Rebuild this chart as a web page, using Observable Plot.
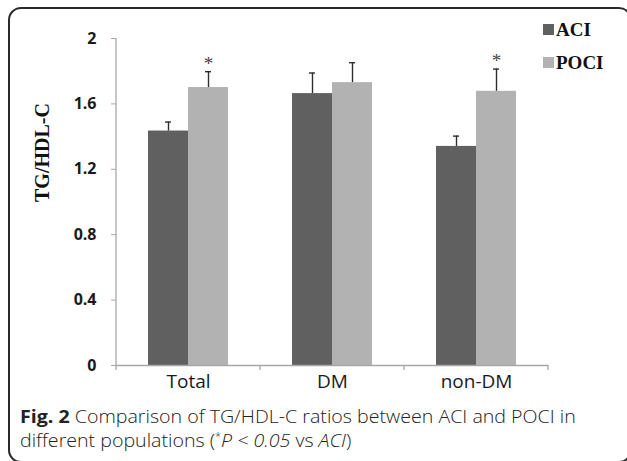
<!DOCTYPE html>
<html>
<head>
<meta charset="utf-8">
<script src="https://cdn.jsdelivr.net/npm/d3@7"></script>
<script src="https://cdn.jsdelivr.net/npm/@observablehq/plot@0.6"></script>
<style>
  html, body { margin: 0; padding: 0; background: #fff; overflow: hidden; }
  #page { position: relative; width: 627px; height: 461px; overflow: hidden; }
  #frame { position: absolute; left: 8px; top: 7px; width: 624px; height: 456px; box-sizing: border-box;
           border: 2px solid #2a2a2a; border-radius: 13px; }
  #chart { position: absolute; left: 0; top: 0; }
  #legend { position: absolute; left: 543px; top: 18px; font-family: "Liberation Serif", "Times New Roman", serif;
            font-weight: bold; font-size: 19px; color: #111; }
  .li { position: absolute; left: 0; white-space: nowrap; height: 24px; line-height: 24px; }
  .sw { display: inline-block; width: 11px; height: 11px; vertical-align: middle; margin-right: 2px; position: relative; top: -2px; }
  #caption { position: absolute; left: 20px; top: 404px; font-family: "Open Sans", sans-serif; font-size: 18px;
             line-height: 24px; color: #222; font-weight: 300; white-space: nowrap; transform-origin: 0 0; }
  #caption b { font-weight: 700; }
  #caption sup { font-size: 10px; vertical-align: 7px; line-height: 0; }
</style>
</head>
<body>
<div id="page">
  <div id="frame"></div>
  <div id="chart"></div>
  <div id="legend"></div>
  <div id="caption"></div>
</div>
<script>
// ---- data ----
const categories = ["Total", "DM", "non-DM"];
const series = ["ACI", "POCI"];
const aciMean = [1.434, 1.663, 1.340];
const aciErr = [0.055, 0.126, 0.063];
const pociMean = [1.700, 1.730, 1.677];
const pociErr = [0.097, 0.122, 0.136];
const pociSignificant = [true, false, true];
const yTicks = [0, 0.4, 0.8, 1.2, 1.6, 2];
const yLabel = "TG/HDL-C";
const seriesColors = ["#606060", "#b2b2b2"];
const captionBold = "Fig. 2";
const captionLine1 = " Comparison of TG/HDL-C ratios between ACI and POCI in";
const captionLine2 = "different populations (";

// ---- table ----
const rows = categories.flatMap((c, i) => [
  {category: c, series: series[0], mean: aciMean[i], err: aciErr[i], sig: false},
  {category: c, series: series[1], mean: pociMean[i], err: pociErr[i], sig: pociSignificant[i]}
]);

const plot = Plot.plot({
  width: 627,
  height: 395,
  marginLeft: 115,
  marginRight: 78,
  marginTop: 38,
  marginBottom: 30,
  style: {fontFamily: "'Open Sans', sans-serif", background: "transparent", color: "#222"},
  fx: {domain: categories, padding: 0, axis: null, label: null},
  x: {domain: series, paddingInner: 0, paddingOuter: 0.764, axis: null},
  y: {domain: [0, 2], axis: null},
  color: {domain: series, range: seriesColors},
  marks: [
    Plot.barY(rows, {fx: "category", x: "series", y: "mean", fill: "series"}),
    Plot.ruleX(rows, {fx: "category", x: "series", y1: "mean", y2: d => d.mean + d.err, stroke: "#2e2e2e", strokeWidth: 1.4}),
    Plot.tickY(rows, {fx: "category", x: "series", y: d => d.mean + d.err, insetLeft: 17, insetRight: 17, stroke: "#2e2e2e", strokeWidth: 1.4}),
    Plot.text(rows.filter(d => d.sig), {fx: "category", x: "series", y: d => d.mean + d.err, text: () => "*", dy: -8,
      fontSize: 19, fill: "#444", fontFamily: "'Liberation Serif', serif"}),
    Plot.ruleY([0], {stroke: "#a6a6a6", strokeWidth: 1.3}),
    Plot.axisY(yTicks, {anchor: "left", tickSize: 5, tickPadding: 15, tickFormat: d => String(d),
      fontSize: 16, fontWeight: "bold", stroke: "#a6a6a6", fill: "#1a1a1a", label: null}),
    Plot.axisFx({anchor: "bottom", tickSize: 0, tickPadding: 9, fontSize: 19, fill: "#1a1a1a", label: null}),
    Plot.text([yLabel], {fx: () => categories[0], frameAnchor: "left", rotate: -90, dx: -73.5, text: d => d,
      fontSize: 20, fontWeight: "bold", fontFamily: "'Liberation Serif', 'Times New Roman', serif", fill: "#111"})
  ]
});

document.getElementById("chart").appendChild(plot);

// y-axis line and category boundary ticks from the plot's own scales
const svg = d3.select(plot.tagName.toLowerCase() === "svg" ? plot : plot.querySelector("svg"));
const fxs = plot.scale("fx"), ys = plot.scale("y");
if (fxs && ys) {
  const x0 = fxs.apply(categories[0]);
  const y0 = ys.apply(0);
  const g = svg.append("g").attr("stroke", "#a6a6a6").attr("stroke-width", 1.3);
  g.append("line").attr("x1", x0).attr("x2", x0).attr("y1", ys.apply(yTicks[yTicks.length - 1])).attr("y2", y0);
  const edges = categories.map(c => fxs.apply(c)).concat([fxs.apply(categories[categories.length - 1]) + fxs.bandwidth]);
  edges.forEach(e => g.append("line").attr("x1", e).attr("x2", e).attr("y1", y0).attr("y2", y0 + 5));
}

// legend
const legend = d3.select("#legend");
series.forEach((s, i) => {
  const item = legend.append("div").attr("class", "li").style("top", (i * 33) + "px");
  item.append("span").attr("class", "sw").style("background", seriesColors[i]);
  item.append("span").text(s);
});

// caption: first line spans about 556px in the reference
const cap = document.getElementById("caption");
cap.innerHTML = "<span id='l1'><b>" + captionBold + "</b>" + captionLine1 + "</span><br>" + captionLine2 +
  "<sup>*</sup><i>P &lt; 0.05</i> vs <i>ACI</i>)";
const w1 = document.getElementById("l1").getBoundingClientRect().width;
if (w1 > 0) cap.style.transform = "scaleX(" + (556 / w1).toFixed(3) + ")";
</script>
</body>
</html>
